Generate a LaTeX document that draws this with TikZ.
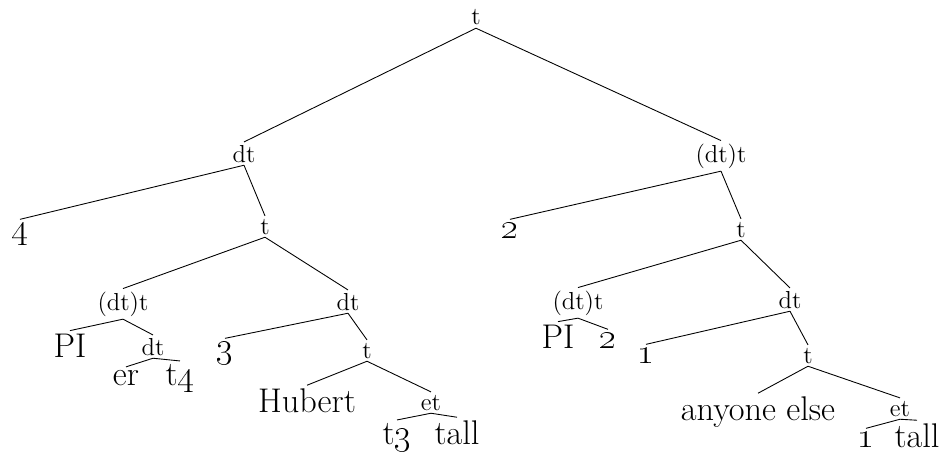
\documentclass[tikz,border=0pt]{standalone}
\usepackage{tikz}
\newcommand{\osn}[1]{\oldstylenums{#1}}
\tikzstyle{cat}=[font=\fontsize{14}{15}\selectfont, inner xsep=0pt, inner ysep=1.5pt, anchor=base]
\tikzstyle{leaf}=[font=\fontsize{19.5}{21}\selectfont, inner xsep=0pt, inner ysep=1.5pt, anchor=base]
\tikzstyle{branch}=[line width=0.5pt]
\begin{document}
\begin{tikzpicture}[x=0.02cm,y=-0.02cm]
	\useasboundingbox (0,0) rectangle (947,453);

	% categories
	\node[cat] (root) at (476,25) {t};
	\node[cat] (dtL) at (244,162) {dt};
	\node[cat] (dttR) at (721,162) {(dt)t};
	\node[cat] (tL) at (265,234) {t};
	\node[cat] (tR) at (741,237) {t};
	\node[cat] (dttLL) at (123,310) {(dt)t};
	\node[cat] (dtLM) at (348,310) {dt};
	\node[cat] (dttRL) at (578,309) {(dt)t};
	\node[cat] (dtRL) at (790,308) {dt};
	\node[cat] (dtS) at (153,355) {dt};
	\node[cat] (tM) at (367,358) {t};
	\node[cat] (etL) at (431,410) {et};
	\node[cat] (tRL) at (808,363) {t};
	\node[cat] (etR) at (900,416) {et};

	% leaves
	\node[leaf] (four) at (20,238) {\osn{4}};
	\node[leaf] (two) at (510,238) {\osn{2}};
	\node[leaf] (piL) at (70,357) {PI};
	\node[leaf] (er) at (126,385) {er};
	\node[leaf] (tfour) at (180,385) {t\osn{4}};
	\node[leaf] (three) at (225,357) {\osn{3}};
	\node[leaf] (hubert) at (307,412) {Hubert};
	\node[leaf] (tthree) at (397,444) {t\osn{3}};
	\node[leaf] (tallL) at (457,444) {tall};
	\node[leaf] (piR) at (558,348) {PI};
	\node[leaf] (twoS) at (608,348) {\osn{2}};
	\node[leaf] (oneA) at (646,363) {\osn{1}};
	\node[leaf] (anyone) at (758,420) {anyone else};
	\node[leaf] (oneB) at (866,447) {\osn{1}};
	\node[leaf] (tallR) at (917,447) {tall};

	% branches
	\draw[branch] (root.south) -- (dtL.north);
	\draw[branch] (root.south) -- (dttR.north);
	\draw[branch] (dtL.south) -- (four.north);
	\draw[branch] (dtL.south) -- (tL.north);
	\draw[branch] (dttR.south) -- (two.north);
	\draw[branch] (dttR.south) -- (tR.north);
	\draw[branch] (tL.south) -- (dttLL.north);
	\draw[branch] (tL.south) -- (dtLM.north);
	\draw[branch] (tR.south) -- (dttRL.north);
	\draw[branch] (tR.south) -- (dtRL.north);
	\draw[branch] (dttLL.south) -- (piL.north);
	\draw[branch] (dttLL.south) -- (dtS.north);
	\draw[branch] (dtS.south) -- (er.north);
	\draw[branch] (dtS.south) -- (tfour.north);
	\draw[branch] (dtLM.south) -- (three.north);
	\draw[branch] (dtLM.south) -- (tM.north);
	\draw[branch] (tM.south) -- (hubert.north);
	\draw[branch] (tM.south) -- (etL.north);
	\draw[branch] (etL.south) -- (tthree.north);
	\draw[branch] (etL.south) -- (tallL.north);
	\draw[branch] (dttRL.south) -- (piR.north);
	\draw[branch] (dttRL.south) -- (twoS.north);
	\draw[branch] (dtRL.south) -- (oneA.north);
	\draw[branch] (dtRL.south) -- (tRL.north);
	\draw[branch] (tRL.south) -- (anyone.north);
	\draw[branch] (tRL.south) -- (etR.north);
	\draw[branch] (etR.south) -- (oneB.north);
	\draw[branch] (etR.south) -- (tallR.north);
\end{tikzpicture}
\end{document}
